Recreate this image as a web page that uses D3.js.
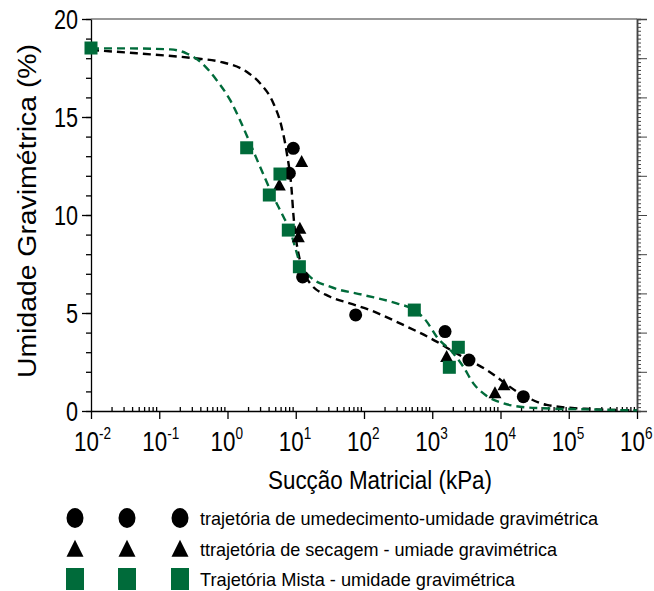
<!DOCTYPE html>
<html><head><meta charset="utf-8">
<script src="https://cdn.jsdelivr.net/npm/d3@7"></script>
<style>
body{margin:0;background:#fff}
svg{display:block}
text{font-family:"Liberation Sans",Arial,sans-serif;fill:#000}
</style>
</head><body>
<svg id="c" width="654" height="591"></svg>
<script>
// ---- data ----
const wettingSuction  = [9.2, 8.05, 12.6, 75.5, 1540, 3450, 21600];
const wettingMoisture = [13.40, 12.13, 6.84, 4.90, 4.05, 2.60, 0.73];

const dryingSuction  = [12.2, 5.74, 11.5, 10.9, 1625, 8300, 11250];
const dryingMoisture = [12.72, 11.53, 9.32, 8.89, 2.78, 0.93, 1.33];

const mixedSuction  = [0.01, 1.91, 5.87, 4.1, 7.78, 11.3, 546, 2410, 1780];
const mixedMoisture = [18.52, 13.43, 12.09, 11.02, 9.23, 7.36, 5.15, 3.25, 2.23];

const fitBlackSuction  = [0.01, 0.047, 0.32, 0.78, 1.9, 3.0, 4.7, 6.2, 7.4, 8.7, 9.2, 10.3, 11.5, 16.2, 31.8, 62, 122, 337, 1160, 2040, 6280, 19300, 47500, 204000, 1e6];
const fitBlackMoisture = [18.42, 18.25, 18.0, 17.82, 17.31, 16.72, 15.70, 14.5, 13.15, 11.28, 10.09, 8.56, 7.70, 6.52, 5.83, 5.49, 5.15, 4.47, 3.54, 3.03, 2.09, 0.90, 0.31, 0.10, 0.03];

const fitGreenSuction  = [0.01, 0.033, 0.145, 0.25, 0.40, 0.69, 1.09, 1.52, 2.14, 3.0, 4.7, 6.6, 8.2, 9.75, 11.5, 16.2, 31.8, 98, 301, 546, 830, 1160, 2040, 2850, 4000, 6280, 11000, 19300, 42400, 204000, 1e6];
const fitGreenMoisture = [18.5, 18.5, 18.45, 18.25, 17.82, 16.89, 15.87, 14.85, 13.66, 12.46, 10.93, 9.91, 9.23, 8.38, 7.54, 6.85, 6.34, 5.92, 5.49, 5.15, 4.56, 3.79, 2.94, 2.26, 1.41, 0.77, 0.39, 0.22, 0.14, 0.08, 0.03];

const xExponents = [-2, -1, 0, 1, 2, 3, 4, 5, 6];
const yTicks = [0, 5, 10, 15, 20];
const xTitle = "Sucção Matricial (kPa)";
const yTitle = "Umidade Gravimétrica (%)";
const legendLabels = [
  "trajetória de umedecimento-umidade gravimétrica",
  "ttrajetória de secagem - umiade gravimétrica",
  "Trajetória Mista - umidade gravimétrica"
];

// ---- drawing ----
const green = "#006b3a";
const svg = d3.select("#c");
const x = d3.scaleLog().domain([0.01, 1e6]).range([91, 637]);
const y = d3.scaleLinear().domain([0, 20]).range([411, 19]);

// top frame line
svg.append("line").attr("x1", 91).attr("x2", 637).attr("y1", y(20)).attr("y2", y(20))
  .attr("stroke", "#777").attr("stroke-width", 1.5);

// right axis
const rMinor = d3.range(0, 20.001, 0.2).map(v => +v.toFixed(1));
const rAx = svg.append("g").attr("transform", "translate(637,0)")
  .call(d3.axisRight(y).tickValues(rMinor).tickSize(4).tickFormat(""));
rAx.append("g").call(d3.axisRight(y).tickValues(d3.range(0, 19, 2)).tickSize(10).tickFormat(""));
rAx.selectAll("path,line").attr("stroke", "#444").attr("stroke-width", 1);
rAx.selectAll(".domain").attr("stroke-width", 1.5);

// left axis
const lAx = svg.append("g").attr("transform", "translate(91,0)");
lAx.call(d3.axisLeft(y).tickValues(d3.range(0, 21, 1)).tickSize(5).tickSizeOuter(0).tickFormat(""));
const lMaj = lAx.append("g").call(d3.axisLeft(y).tickValues(yTicks).tickSize(9).tickSizeOuter(0).tickFormat(""));
lMaj.select(".domain").remove();
lAx.selectAll("path,line").attr("stroke", "#000").attr("stroke-width", 1.3);
svg.append("g").selectAll("text").data(yTicks).join("text")
  .attr("transform", d => `translate(78,${y(d) + 9.5}) scale(0.8,1)`)
  .attr("text-anchor", "end").attr("font-size", 27).text(d => d);

// bottom axis
const bAx = svg.append("g").attr("transform", "translate(0,411)");
const minorX = [];
xExponents.slice(0, -1).forEach(e => { for (let k = 2; k <= 9; k++) minorX.push(k * Math.pow(10, e)); });
bAx.call(d3.axisBottom(x).tickValues(minorX).tickSizeInner(-4).tickSizeOuter(0).tickFormat(""));
bAx.append("g").call(d3.axisBottom(x).tickValues(xExponents.map(e => Math.pow(10, e))).tickSize(8).tickFormat(""))
  .select(".domain").remove();
bAx.selectAll("path,line").attr("stroke", "#000").attr("stroke-width", 1.3);
const xl = svg.append("g").selectAll("text").data(xExponents).join("text")
  .attr("transform", d => `translate(${x(Math.pow(10, d)) - 17},451) scale(0.8,1)`)
  .attr("font-size", 28);
xl.append("tspan").text("10");
xl.append("tspan").attr("dy", -12).attr("font-size", 17).text(d => d < 0 ? "-" + Math.abs(d) : String(d));

// axis titles
svg.append("text").attr("x", 380).attr("y", 489).attr("text-anchor", "middle")
  .attr("font-size", 25).attr("textLength", 224).attr("lengthAdjust", "spacingAndGlyphs").text(xTitle);
svg.append("text").attr("transform", "translate(36,211) rotate(-90)").attr("text-anchor", "middle")
  .attr("font-size", 25).attr("textLength", 334).attr("lengthAdjust", "spacingAndGlyphs").text(yTitle);

// fitted curves
const line = d3.line().x(d => x(d[0])).y(d => y(d[1])).curve(d3.curveMonotoneX);
svg.append("path").datum(d3.zip(fitBlackSuction, fitBlackMoisture)).attr("d", line)
  .attr("fill", "none").attr("stroke", "#000").attr("stroke-width", 2.4).attr("stroke-dasharray", "8,5");
svg.append("path").datum(d3.zip(fitGreenSuction, fitGreenMoisture)).attr("d", line)
  .attr("fill", "none").attr("stroke", green).attr("stroke-width", 2.4).attr("stroke-dasharray", "8,5");

// markers
const tri = (cx, cy, w, h) => `M${cx},${cy - h * 0.55}L${cx + w / 2},${cy + h * 0.45}L${cx - w / 2},${cy + h * 0.45}Z`;
svg.append("g").selectAll("circle").data(d3.zip(wettingSuction, wettingMoisture)).join("circle")
  .attr("cx", d => x(d[0])).attr("cy", d => y(d[1])).attr("r", 6.5).attr("fill", "#000");
svg.append("g").selectAll("path").data(d3.zip(dryingSuction, dryingMoisture)).join("path")
  .attr("d", d => tri(x(d[0]), y(d[1]), 13, 12)).attr("fill", "#000");
svg.append("g").selectAll("rect").data(d3.zip(mixedSuction, mixedMoisture)).join("rect")
  .attr("x", d => x(d[0]) - 6.5).attr("y", d => y(d[1]) - 6.5).attr("width", 13).attr("height", 13).attr("fill", green);

// legend
const legY = [518, 549, 579];
const legX = [75, 127, 180];
const lg = svg.append("g");
legX.forEach(cx => {
  lg.append("ellipse").attr("cx", cx).attr("cy", legY[0]).attr("rx", 8.5).attr("ry", 10).attr("fill", "#000");
  lg.append("path").attr("d", tri(cx, legY[1], 17, 17)).attr("fill", "#000");
  lg.append("rect").attr("x", cx - 9).attr("y", legY[2] - 11).attr("width", 18).attr("height", 22).attr("fill", green);
});
const legW = [398, 357, 315];
lg.selectAll("text").data(legendLabels).join("text")
  .attr("x", 200).attr("y", (d, i) => legY[i] + 7).attr("font-size", 19)
  .attr("textLength", (d, i) => legW[i]).attr("lengthAdjust", "spacingAndGlyphs").text(d => d);
</script>
</body></html>
